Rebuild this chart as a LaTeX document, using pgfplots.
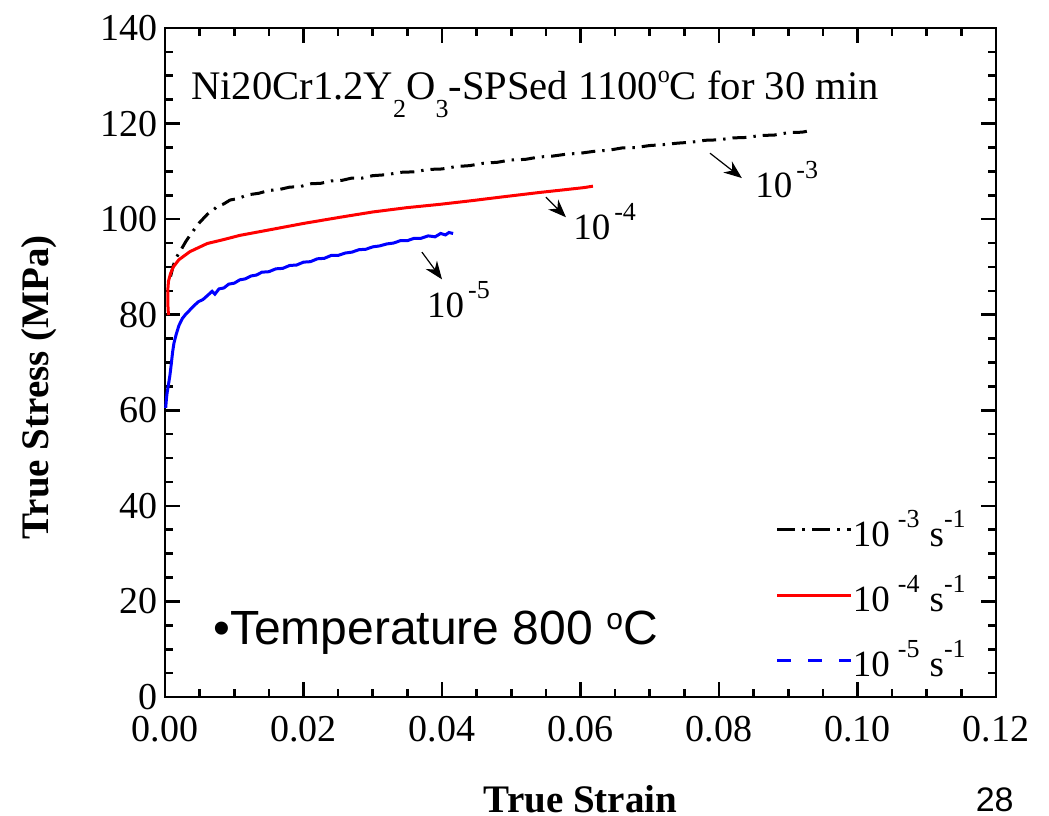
\documentclass[border=0pt]{standalone}
\usepackage{pgfplots}
\pgfplotsset{compat=1.18}
\usepackage{fontspec}
\setmainfont{Liberation Serif}
\newfontfamily\arial{Liberation Sans}
\usetikzlibrary{arrows.meta}

% raised exponent as set in the plot annotations
\newcommand\ex[1]{\raisebox{9.5pt}{\fontsize{13}{13}\selectfont -#1}}
\newcommand\rate[1]{10\hspace{2pt}\ex{#1}}
\newcommand\legrate[1]{\rule[-7.5pt]{0pt}{7.5pt}10\hspace{4pt}\ex{#1}\hspace{5pt}s\ex{1}}
\newcommand\sub[1]{\raisebox{-9pt}{\fontsize{13}{13}\selectfont #1}}
\newcommand\supo{\raisebox{8.5pt}{\fontsize{12}{12}\selectfont o}}

\begin{document}
\begin{tikzpicture}
\begin{axis}[
  at={(82.5pt,59pt)}, anchor=south west,
  scale only axis, width=415.5pt, height=334.5pt,
  xmin=0, xmax=0.12, ymin=0, ymax=140,
  xtick={0,0.02,0.04,0.06,0.08,0.10,0.12},
  ytick={0,20,40,60,80,100,120,140},
  minor tick num=3,
  scaled x ticks=false,
  /pgf/number format/assume math mode=true,
  ticklabel style={font=\fontsize{19}{19}\selectfont},
  xticklabel style={yshift=-6pt, /pgf/number format/.cd, fixed, fixed zerofill, precision=2},
  tick align=inside,
  major tick length=7.5pt, minor tick length=4pt,
  every tick/.style={black, line width=1.3pt},
  axis line style={line width=1.3pt},
  xlabel={True Strain},
  ylabel={True Stress (MPa)},
  every axis x label/.style={at={(rel axis cs:0.5,-0.1719)}, anchor=base,
    font=\bfseries\fontsize{19.5}{19.5}\selectfont},
  every axis y label/.style={at={(rel axis cs:-0.1516,0.463)}, rotate=90, anchor=center,
    font=\bfseries\fontsize{19.5}{19.5}\selectfont},
  legend style={at={(axis cs:0.0873,40.0)}, anchor=north west, draw=none, fill=none,
    font=\fontsize{18.5}{18.5}\selectfont, row sep=13pt,
    nodes={inner sep=0pt}},
  /tikz/every even column/.append style={column sep=5pt},
  legend cell align=left,
  legend image code/.code={\draw[#1] (0pt,0pt) -- (37pt,0pt);},
  clip=false,
]
% 10^-3 s^-1
\addplot[black, line width=1.5pt, dash pattern=on 7pt off 3.5pt on 1.2pt off 3.5pt, forget plot] coordinates {
(0.0008,88.0) (0.0012,90.3) (0.0016,91.9) (0.0022,93.3) (0.0030,95.3) (0.0036,96.6)
(0.0041,97.6) (0.0050,99.3) (0.0061,101.0) (0.0068,101.7) (0.0075,102.6) (0.0085,103.2)
(0.0094,104.0) (0.0105,104.3) (0.0120,105.1) (0.0135,105.4) (0.0150,106.0) (0.0165,106.2)
(0.0180,106.7) (0.0195,106.8) (0.0210,107.4) (0.0225,107.5) (0.0240,108.0) (0.0255,108.1)
(0.0270,108.6) (0.0285,108.6) (0.0300,109.1) (0.0320,109.3) (0.0340,109.8) (0.0360,109.9)
(0.0380,110.4) (0.0400,110.5) (0.0420,111.0) (0.0440,111.2) (0.0460,111.7) (0.0480,111.9)
(0.0500,112.4) (0.0520,112.5) (0.0540,113.0) (0.0560,113.2) (0.0580,113.6) (0.0600,113.8)
(0.0620,114.2) (0.0640,114.4) (0.0660,114.9) (0.0680,115.0) (0.0700,115.4) (0.0720,115.6)
(0.0740,115.9) (0.0760,116.1) (0.0780,116.5) (0.0800,116.6) (0.0820,117.0) (0.0840,117.1)
(0.0860,117.5) (0.0880,117.6) (0.0900,118.1) (0.0920,118.2) (0.0935,118.6)
};
% 10^-4 s^-1
\addplot[red, line width=1.5pt, forget plot] coordinates {
(0.0005,79.9) (0.0004,82.5) (0.0004,85.0) (0.0005,87.0) (0.0008,88.6) (0.0012,90.0)
(0.0020,91.5) (0.0036,93.2) (0.0061,94.9) (0.0084,95.7) (0.0108,96.6) (0.0156,97.9)
(0.0200,99.1) (0.0253,100.4) (0.0300,101.5) (0.0349,102.4) (0.0397,103.1) (0.0445,103.9)
(0.0484,104.6) (0.0542,105.6) (0.0580,106.2) (0.0605,106.6) (0.0618,106.9)
};
% 10^-5 s^-1
\addplot[blue, line width=1.5pt, forget plot] coordinates {
(0.0001,60.5) (0.0002,62.3) (0.0003,63.6) (0.0005,65.4) (0.0007,67.2) (0.0009,69.6)
(0.0011,72.2) (0.0013,74.1) (0.0016,75.8) (0.0020,77.7) (0.0025,79.2) (0.0030,80.1)
(0.0036,81.0) (0.0042,81.9) (0.0048,82.7) (0.0055,83.2) (0.0062,84.1) (0.0068,84.9)
(0.0072,84.3) (0.0078,85.4) (0.0085,85.6) (0.0092,86.4) (0.0100,86.6) (0.0108,87.3)
(0.0116,87.5) (0.0124,88.1) (0.0132,88.3) (0.0140,88.9) (0.0150,89.0) (0.0160,89.6)
(0.0170,89.7) (0.0180,90.3) (0.0190,90.4) (0.0200,91.0) (0.0210,91.1) (0.0220,91.7)
(0.0230,91.8) (0.0240,92.4) (0.0250,92.4) (0.0260,92.9) (0.0270,93.1) (0.0280,93.6)
(0.0290,93.7) (0.0300,94.2) (0.0310,94.4) (0.0320,94.8) (0.0330,95.0) (0.0340,95.5)
(0.0350,95.5) (0.0360,96.0) (0.0370,96.0) (0.0380,96.5) (0.0390,96.3) (0.0398,97.0)
(0.0405,96.7) (0.0410,97.2) (0.0416,97.0)
};
\addlegendimage{black, line width=1.5pt, dash pattern=on 9pt off 3.5pt on 1.5pt off 3.5pt}
\addlegendentry{\legrate{3}}
\addlegendimage{red, line width=1.5pt}
\addlegendentry{\legrate{4}}
\addlegendimage{blue, line width=1.5pt, dash pattern=on 7pt off 8.5pt}
\addlegendentry{\legrate{5}}

% rate labels with arrows
\draw[-{Stealth[length=9pt,width=7pt]}, line width=0.6pt] (axis cs:0.0787,113.8) -- (axis cs:0.0833,108.6);
\draw[-{Stealth[length=9pt,width=7pt]}, line width=0.6pt] (axis cs:0.0550,104.6) -- (axis cs:0.0579,100.4);
\draw[-{Stealth[length=9pt,width=7pt]}, line width=0.6pt] (axis cs:0.0371,93.1) -- (axis cs:0.0400,87.4);
\node[anchor=base west, inner sep=0pt, font=\fontsize{18.5}{18.5}\selectfont] at (axis cs:0.0852,104.6) {\rate{3}};
\node[anchor=base west, inner sep=0pt, font=\fontsize{18.5}{18.5}\selectfont] at (axis cs:0.0589,95.8) {\rate{4}};
\node[anchor=base west, inner sep=0pt, font=\fontsize{18.5}{18.5}\selectfont] at (axis cs:0.0378,79.5) {\rate{5}};

% sample description and test temperature
\node[anchor=base west, inner sep=0pt, font=\fontsize{20.3}{20.3}\selectfont] at (axis cs:0.00375,125.1)
  {Ni20Cr1.2Y\sub{2}O\sub{3}-SPSed 1100\supo C for 30 min};
\node[anchor=base west, inner sep=0pt, font=\arial\fontsize{24}{24}\selectfont] at (axis cs:0.00693,10.9)
  {•Temperature 800 \raisebox{7.5pt}{\fontsize{15}{15}\selectfont o}C};
\end{axis}
\node[anchor=base east, inner sep=0pt, font=\arial\fontsize{17}{17}\selectfont] at (507pt,2pt) {28};
\pgfresetboundingbox
\path[use as bounding box] (0pt,0pt) rectangle (524.5pt,407.5pt);
\end{tikzpicture}
\end{document}
